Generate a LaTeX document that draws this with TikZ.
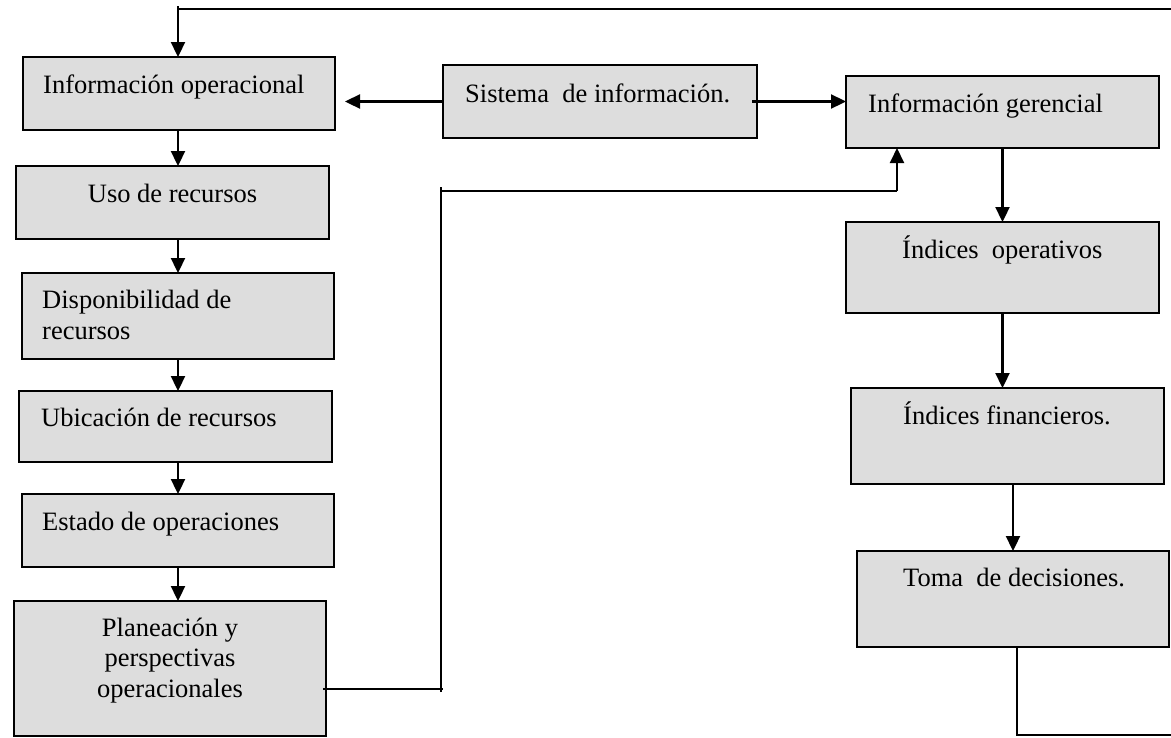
\documentclass[tikz,border=0pt]{standalone}
\usepackage{fontspec}
\setmainfont{Liberation Serif}
\usetikzlibrary{arrows.meta,calc}
\definecolor{boxfill}{HTML}{DDDDDD}
\begin{document}
\begin{tikzpicture}[x=1pt,y=-1pt,
  box/.style={draw=black, fill=boxfill, line width=1.9pt, inner sep=0pt, outer sep=0pt, minimum width=312pt},
  lbl/.style={inner sep=0pt, anchor=base west, font=\fontsize{26.5}{31}\selectfont},
  clbl/.style={lbl, anchor=base, align=center},
  arr/.style={line width=2.3pt, -{Triangle[length=15pt,width=14pt]}},
  link/.style={line width=1.7pt}]
\useasboundingbox (0,0) rectangle (1171,737);

% left column
\node[box, minimum width=312pt, minimum height=73pt] (infoop) at (179,93.5) {};
\node[box, minimum width=313pt, minimum height=73pt] (uso)    at (172.5,202.5) {};
\node[box, minimum width=312pt, minimum height=86pt] (disp)   at (178,316) {};
\node[box, minimum width=313pt, minimum height=71pt] (ubic)   at (175.5,426.5) {};
\node[box, minimum width=312pt, minimum height=73pt] (estado) at (178,530.5) {};
\node[box, minimum width=312pt, minimum height=135pt] (plan)  at (170,668.5) {};

% middle
\node[box, minimum width=314pt, minimum height=73pt] (sis) at (600,101.5) {};

% right column
\node[box, minimum width=313pt, minimum height=72pt] (ger)  at (1002.5,112) {};
\node[box, minimum width=313pt, minimum height=91pt] (iop)  at (1002.5,267.5) {};
\node[box, minimum width=313pt, minimum height=96pt] (ifin) at (1007.5,436) {};
\node[box, minimum width=312pt, minimum height=96pt] (toma) at (1013,599) {};

% labels
\node[lbl] (tInfoop) at (43,93) {Información operacional};
\node[clbl] (tUso) at (172.5,202) {Uso de recursos};
\node[lbl] (tDisp1) at (42,308) {Disponibilidad de};
\node[lbl] (tDisp2) at (42,339) {recursos};
\node[lbl] (tUbic) at (41,426) {Ubicación de recursos};
\node[lbl] (tEstado) at (42,530) {Estado de operaciones};
\node[clbl] (tPlan1) at (170,636) {Planeación y};
\node[clbl] (tPlan2) at (170,666) {perspectivas};
\node[clbl] (tPlan3) at (170,697) {operacionales};
\node[lbl] (tSis) at (465,102) {Sistema\ \ de información.};
\node[lbl] (tGer) at (868,112) {Información gerencial};
\node[lbl] (tIop) at (902,258) {Índices\ \ operativos};
\node[lbl] (tIfin) at (903,424) {Índices financieros.};
\node[lbl] (tToma) at (903,586) {Toma\ \ de decisiones.};

% reference columns and corners
\coordinate (colL) at (178,0);
\coordinate (topR) at (1171,9);
\coordinate (botR) at (1171,735);
\coordinate (fbLow) at (443,689);
\coordinate (fbBot) at (441,692);
\coordinate (fbTop) at (441,187);
\coordinate (fbCorner) at (441,191);
\coordinate (fbX) at (897,0);

% feedback from the top edge into the operational chain
\draw[line width=2.2pt] (topR) -- (topR -| colL);
\draw[arr] ($(topR -| colL)+(0,-3)$) -- (infoop.north -| colL);

% operational chain
\draw[arr] (infoop.south -| colL) -- (uso.north -| colL);
\draw[arr] (uso.south -| colL) -- (disp.north -| colL);
\draw[arr] (disp.south -| colL) -- (ubic.north -| colL);
\draw[arr] (ubic.south -| colL) -- (estado.north -| colL);
\draw[arr] (estado.south -| colL) -- (plan.north -| colL);

% information system outputs
\draw[arr] (sis.west) -- ($(infoop.east |- sis.west)+(10,0)$);
\draw[arr] ($(sis.east)+(-5,0)$) -- (ger.west |- sis.east);

% planning feeds management information
\draw[link] ($(plan.east |- fbLow)+(-3,0)$) -- (fbLow);
\draw[link] (fbBot) -- (fbTop);
\draw[link] (fbCorner) -- (fbCorner -| fbX);
\draw[arr, line width=2pt] (fbCorner -| fbX) -- (ger.south -| fbX);

% management chain
\draw[arr] (ger.south) -- (iop.north);
\draw[arr] (iop.south) -- (iop.south |- ifin.north);
\draw[arr] (toma.north |- ifin.south) -- (toma.north);
\draw[link] ($(toma.south)+(4,0)$) |- (botR);
\end{tikzpicture}
\end{document}
